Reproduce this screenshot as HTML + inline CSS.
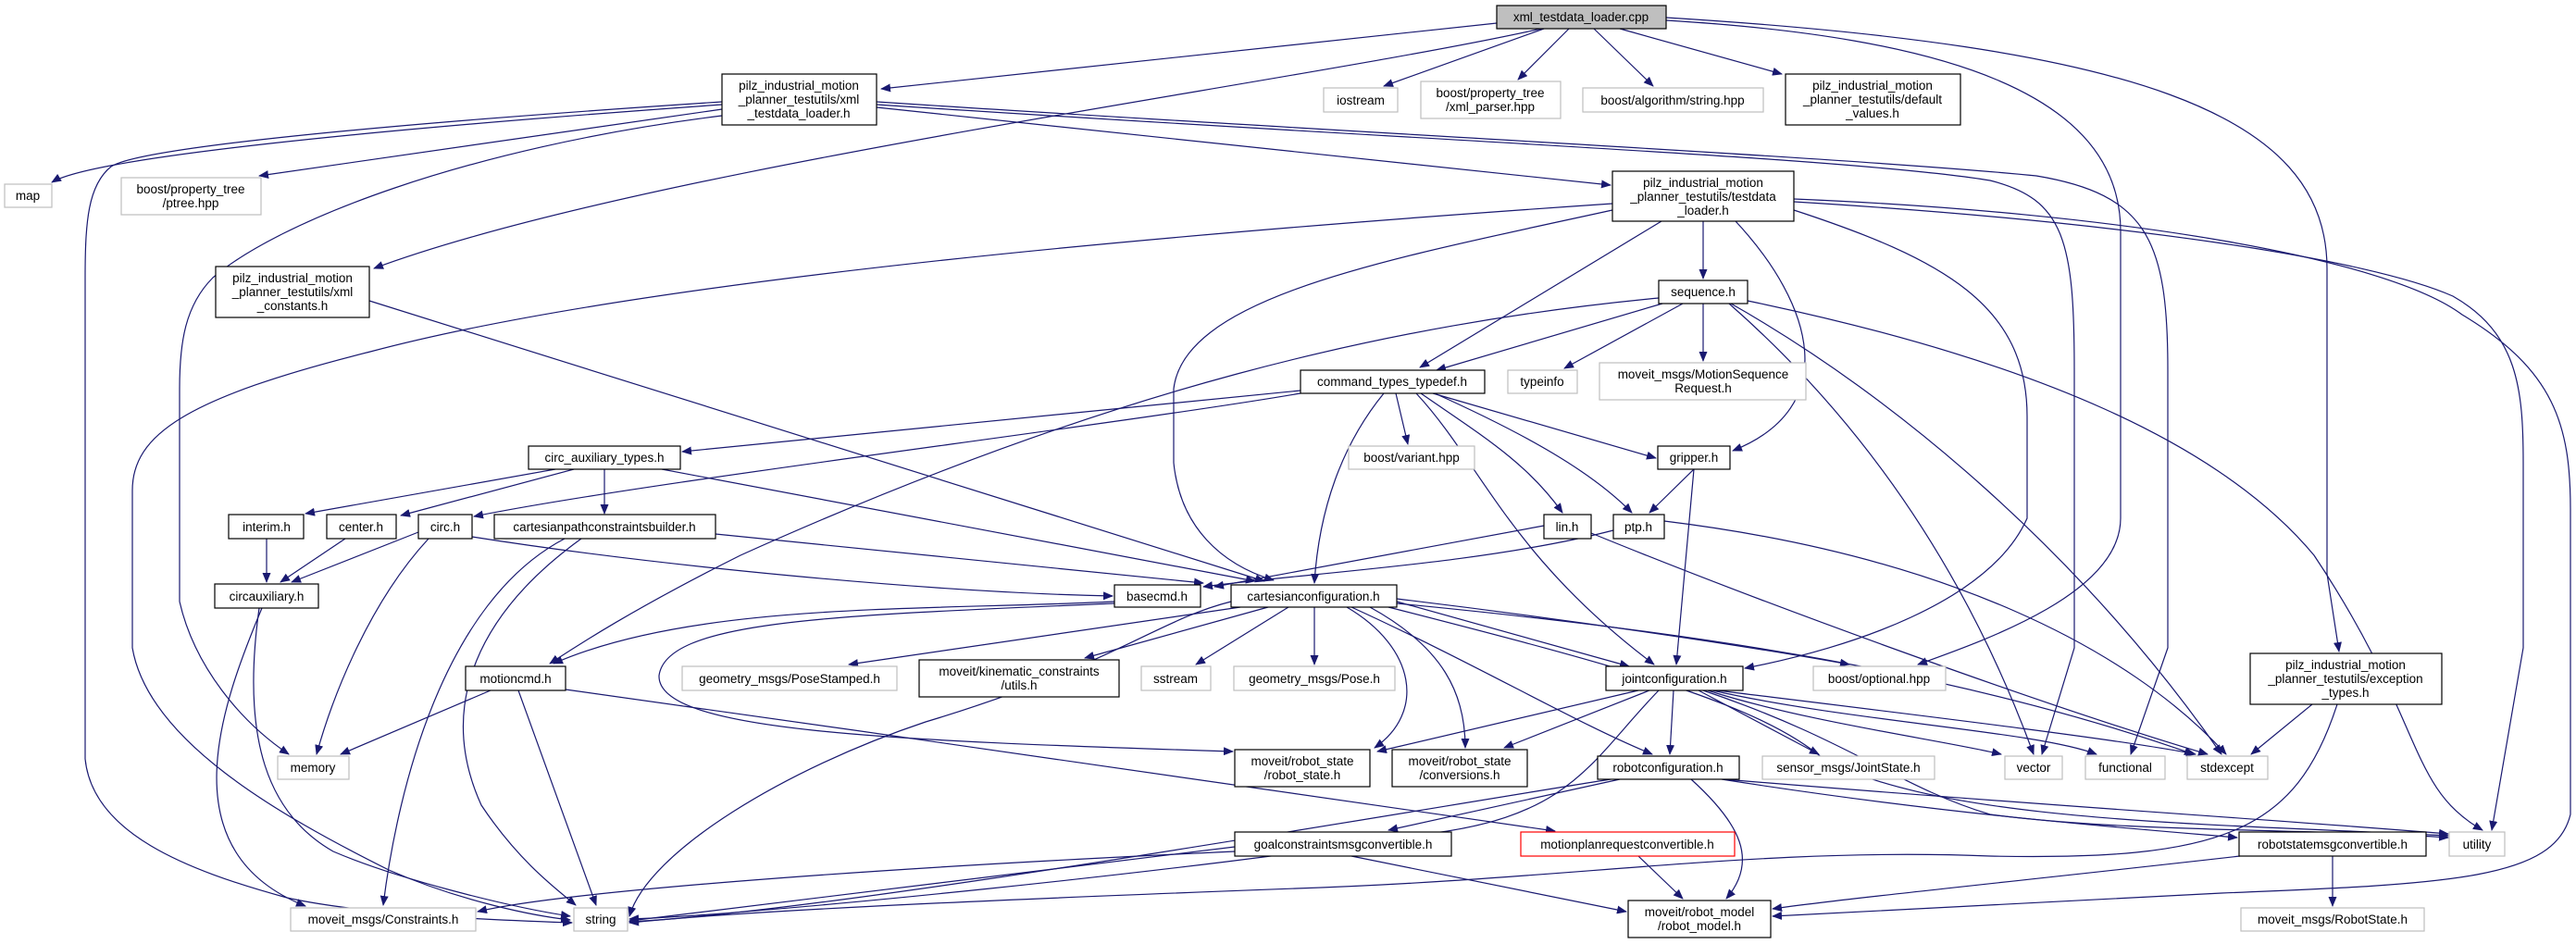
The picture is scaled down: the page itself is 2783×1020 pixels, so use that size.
<!DOCTYPE html>
<html><head><meta charset="utf-8"><style>
html,body{margin:0;padding:0;background:#fff;}
svg{display:block;}
text{font-family:"Liberation Sans",sans-serif;font-size:13.5px;fill:#000;text-anchor:middle;}
.e{fill:none;stroke:#191970;stroke-width:1.2;marker-end:url(#a);}
.b{fill:#fff;stroke:#000;stroke-width:1.2;}
.g{fill:#fff;stroke:#bfbfbf;stroke-width:1.2;}
.r{fill:#fff;stroke:#ff0000;stroke-width:1.2;}
</style></head><body>
<svg width="2783" height="1020" viewBox="0 0 2783 1020" xmlns="http://www.w3.org/2000/svg">
<defs><marker id="a" markerWidth="11" markerHeight="9" refX="10" refY="4.5" orient="auto" markerUnits="userSpaceOnUse"><path d="M0,0 L11,4.5 L0,9 Z" fill="#191970"/></marker></defs>
<g>
<!-- cpp -->
<path class="e" d="M1617,25 L952,96"/>
<path class="e" d="M1668,31 L1495,93"/>
<path class="e" d="M1695,31 L1640,86"/>
<path class="e" d="M1722,31 L1786,93"/>
<path class="e" d="M1750,31 L1925,80"/>
<path class="e" d="M1665,31 C1400,90 700,180 404,290"/>
<path class="e" d="M1800,22 C2100,40 2291,100 2291,250 L2291,560 C2291,640 2150,690 2072,718"/>
<path class="e" d="M1800,19 C2300,50 2514,120 2514,290 L2514,620 L2527,704"/>
<!-- xml_testdata_loader.h -->
<path class="e" d="M780,113 C400,140 100,170 56,197"/>
<path class="e" d="M780,118 L280,190"/>
<path class="e" d="M780,110 C400,135 150,160 120,180 C95,200 92,240 92,300 L92,820 C100,900 200,940 310,970 C400,990 560,995 618,997"/>
<path class="e" d="M780,125 C500,160 300,240 230,300 C200,330 194,370 194,420 L194,650 C210,720 260,780 312,815"/>
<path class="e" d="M947,116 L1740,200"/>
<path class="e" d="M947,113 C1500,150 2000,170 2150,195 C2230,215 2241,260 2241,400 L2241,700 L2206,815"/>
<path class="e" d="M947,110 C1400,140 2000,170 2200,190 C2320,210 2342,260 2342,400 L2342,700 L2302,815"/>
<!-- testdata_loader.h -->
<path class="e" d="M1840,239 L1840,301"/>
<path class="e" d="M1795,239 L1534,397"/>
<path class="e" d="M1742,227 C1500,280 1280,320 1268,420 L1268,500 C1275,570 1320,610 1376,627"/>
<path class="e" d="M1742,220 C1300,250 700,300 400,380 C200,430 143,470 143,530 L143,700 C160,800 300,880 420,940 C500,975 580,990 616,994"/>
<path class="e" d="M1875,239 C1960,330 1990,440 1872,487"/>
<path class="e" d="M1938,227 C2100,280 2190,330 2190,450 L2190,560 C2150,650 2000,700 1885,722"/>
<path class="e" d="M1938,218 C2300,240 2560,280 2650,320 C2720,360 2726,420 2726,500 L2726,700 L2692,897"/>
<path class="e" d="M1938,215 C2300,230 2580,280 2660,340 C2760,400 2777,460 2777,550 L2777,880 C2760,950 2650,955 2400,965 C2200,975 2000,985 1915,990"/>
<!-- sequence.h -->
<path class="e" d="M1796,328 L1552,400"/>
<path class="e" d="M1818,328 L1690,398"/>
<path class="e" d="M1840,328 L1840,390"/>
<path class="e" d="M1792,322 C1500,350 1200,420 800,600 C680,660 620,700 594,717"/>
<path class="e" d="M1868,328 C1950,400 2100,550 2197,815"/>
<path class="e" d="M1870,328 C2050,430 2250,600 2400,815"/>
<path class="e" d="M1888,325 C2200,390 2400,480 2500,600 C2620,780 2600,850 2682,897"/>
<!-- command_types_typedef.h -->
<path class="e" d="M1405,422 L737,488"/>
<path class="e" d="M1405,425 C1200,460 700,520 512,558"/>
<path class="e" d="M1495,425 C1450,480 1425,550 1420,630"/>
<path class="e" d="M1508,425 L1521,480"/>
<path class="e" d="M1535,425 C1600,470 1650,500 1688,554"/>
<path class="e" d="M1550,425 C1650,470 1720,510 1763,554"/>
<path class="e" d="M1548,425 L1789,495"/>
<path class="e" d="M1530,425 C1600,500 1630,600 1787,718"/>
<!-- circ_auxiliary_types.h -->
<path class="e" d="M600,507 L330,555"/>
<path class="e" d="M620,507 L433,557"/>
<path class="e" d="M653,507 L653,555"/>
<path class="e" d="M715,507 L1356,628"/>
<!-- xml_constants -->
<path class="e" d="M399,325 L1366,628"/>
<!-- gripper, ptp, lin -->
<path class="e" d="M1830,507 L1782,554"/>
<path class="e" d="M1830,507 L1811,718"/>
<path class="e" d="M1743,573 C1600,610 1400,620 1300,634"/>
<path class="e" d="M1798,563 C2100,600 2300,700 2405,815"/>
<path class="e" d="M1668,568 L1312,634"/>
<path class="e" d="M1719,576 C1900,650 2200,760 2385,815"/>
<!-- left cluster -->
<path class="e" d="M288,582 L288,629"/>
<path class="e" d="M373,582 L303,629"/>
<path class="e" d="M452,575 L315,629"/>
<path class="e" d="M463,582 C400,650 360,750 342,815"/>
<path class="e" d="M510,580 C700,610 1000,640 1202,644"/>
<path class="e" d="M773,577 L1300,630"/>
<path class="e" d="M610,582 C480,650 430,850 414,978"/>
<path class="e" d="M628,582 C520,660 470,760 520,870 C560,930 600,960 622,978"/>
<path class="e" d="M283,657 C240,760 180,920 330,979"/>
<path class="e" d="M280,657 C260,800 290,880 360,920 C430,950 550,980 616,990"/>
<!-- basecmd -->
<path class="e" d="M1204,650 C1000,660 750,650 598,717"/>
<path class="e" d="M1204,652 C900,665 720,670 712,730 C710,790 950,800 1332,812"/>
<!-- cartesianconfiguration -->
<path class="e" d="M1340,656 L917,718"/>
<path class="e" d="M1370,656 L1172,711"/>
<path class="e" d="M1392,656 L1292,718"/>
<path class="e" d="M1420,656 L1420,718"/>
<path class="e" d="M1509,650 L1760,720"/>
<path class="e" d="M1509,647 C1700,670 1900,700 1998,718"/>
<path class="e" d="M1460,656 C1600,720 1700,780 1785,815"/>
<path class="e" d="M1480,656 C1560,700 1583,750 1583,808"/>
<path class="e" d="M1455,656 C1530,700 1540,770 1485,808"/>
<path class="e" d="M1509,652 C1800,680 2100,720 2370,815"/>
<path class="e" d="M1500,656 C1750,720 1900,760 1970,820 C2100,890 2400,890 2645,903"/>
<path class="e" d="M1330,650 C1250,670 1200,720 1000,780 C850,830 700,920 680,990"/>
<!-- motioncmd -->
<path class="e" d="M530,746 L368,815"/>
<path class="e" d="M560,746 L644,978"/>
<path class="e" d="M611,745 C1000,800 1500,870 1680,898"/>
<!-- jointconfiguration -->
<path class="e" d="M1770,746 L1488,812"/>
<path class="e" d="M1782,746 L1625,808"/>
<path class="e" d="M1808,746 L1804,815"/>
<path class="e" d="M1835,746 L1965,815"/>
<path class="e" d="M1845,746 C1950,780 2100,800 2162,815"/>
<path class="e" d="M1850,746 C2000,780 2200,790 2265,815"/>
<path class="e" d="M1855,746 C2050,770 2300,800 2372,815"/>
<path class="e" d="M1840,746 C2000,800 2050,850 2150,880 C2300,900 2500,895 2645,905"/>
<path class="e" d="M1792,746 C1720,820 1700,880 1550,900 C1300,940 800,990 680,993"/>
<!-- robotconfiguration -->
<path class="e" d="M1750,842 L1500,897"/>
<path class="e" d="M1860,842 C2100,880 2300,895 2417,905"/>
<path class="e" d="M1862,842 C2200,870 2450,885 2645,901"/>
<path class="e" d="M1827,842 C1880,890 1900,930 1865,971"/>
<path class="e" d="M1740,842 C1500,880 900,985 680,996"/>
<!-- bottom -->
<path class="e" d="M1334,920 C900,940 600,965 516,985"/>
<path class="e" d="M1334,915 L680,995"/>
<path class="e" d="M1460,925 L1757,985"/>
<path class="e" d="M1770,925 L1818,971"/>
<path class="e" d="M2520,925 L2520,979"/>
<path class="e" d="M2420,925 C2200,950 2000,970 1915,982"/>
<path class="e" d="M2498,761 L2432,815"/>
<path class="e" d="M2525,761 C2480,900 2400,930 2150,925 C1900,915 1700,950 1400,960 C1000,975 800,985 680,997"/>
</g>
<g>
<rect x="1617" y="6" width="183" height="25" fill="#bfbfbf" stroke="#000" stroke-width="1.2"/><text x="1708" y="23">xml_testdata_loader.cpp</text>
<rect class="b" x="780" y="80" width="167" height="55"/><text x="863" y="97">pilz_industrial_motion</text><text x="863" y="112">_planner_testutils/xml</text><text x="863" y="127">_testdata_loader.h</text>
<rect class="g" x="1430" y="95" width="80" height="26"/><text x="1470" y="113">iostream</text>
<rect class="g" x="1535" y="88" width="151" height="40"/><text x="1610" y="105">boost/property_tree</text><text x="1610" y="120">/xml_parser.hpp</text>
<rect class="g" x="1710" y="95" width="195" height="26"/><text x="1807" y="113">boost/algorithm/string.hpp</text>
<rect class="b" x="1929" y="80" width="189" height="55"/><text x="2023" y="97">pilz_industrial_motion</text><text x="2023" y="112">_planner_testutils/default</text><text x="2023" y="127">_values.h</text>
<rect class="g" x="5" y="199" width="51" height="25"/><text x="30" y="216">map</text>
<rect class="g" x="131" y="192" width="151" height="40"/><text x="206" y="209">boost/property_tree</text><text x="206" y="224">/ptree.hpp</text>
<rect class="b" x="1742" y="185" width="196" height="54"/><text x="1840" y="202">pilz_industrial_motion</text><text x="1840" y="217">_planner_testutils/testdata</text><text x="1840" y="232">_loader.h</text>
<rect class="b" x="233" y="288" width="166" height="55"/><text x="316" y="305">pilz_industrial_motion</text><text x="316" y="320">_planner_testutils/xml</text><text x="316" y="335">_constants.h</text>
<rect class="b" x="1792" y="303" width="96" height="25"/><text x="1840" y="320">sequence.h</text>
<rect class="b" x="1405" y="400" width="199" height="25"/><text x="1504" y="417">command_types_typedef.h</text>
<rect class="g" x="1629" y="400" width="75" height="25"/><text x="1666" y="417">typeinfo</text>
<rect class="g" x="1728" y="392" width="223" height="40"/><text x="1840" y="409">moveit_msgs/MotionSequence</text><text x="1840" y="424">Request.h</text>
<rect class="b" x="571" y="482" width="164" height="25"/><text x="653" y="499">circ_auxiliary_types.h</text>
<rect class="g" x="1457" y="482" width="136" height="25"/><text x="1525" y="499">boost/variant.hpp</text>
<rect class="b" x="1791" y="482" width="78" height="25"/><text x="1830" y="499">gripper.h</text>
<rect class="b" x="247" y="556" width="81" height="26"/><text x="288" y="574">interim.h</text>
<rect class="b" x="353" y="556" width="75" height="26"/><text x="390" y="574">center.h</text>
<rect class="b" x="452" y="556" width="58" height="26"/><text x="481" y="574">circ.h</text>
<rect class="b" x="534" y="556" width="239" height="26"/><text x="653" y="574">cartesianpathconstraintsbuilder.h</text>
<rect class="b" x="1668" y="556" width="51" height="26"/><text x="1693" y="574">lin.h</text>
<rect class="b" x="1743" y="556" width="55" height="26"/><text x="1770" y="574">ptp.h</text>
<rect class="b" x="232" y="631" width="112" height="26"/><text x="288" y="649">circauxiliary.h</text>
<rect class="b" x="1204" y="632" width="93" height="24"/><text x="1250" y="649">basecmd.h</text>
<rect class="b" x="1330" y="632" width="179" height="24"/><text x="1419" y="649">cartesianconfiguration.h</text>
<rect class="b" x="503" y="720" width="108" height="26"/><text x="557" y="738">motioncmd.h</text>
<rect class="g" x="737" y="720" width="232" height="26"/><text x="853" y="738">geometry_msgs/PoseStamped.h</text>
<rect class="b" x="993" y="713" width="216" height="40"/><text x="1101" y="730">moveit/kinematic_constraints</text><text x="1101" y="745">/utils.h</text>
<rect class="g" x="1233" y="720" width="75" height="26"/><text x="1270" y="738">sstream</text>
<rect class="g" x="1333" y="720" width="174" height="26"/><text x="1420" y="738">geometry_msgs/Pose.h</text>
<rect class="b" x="1735" y="720" width="148" height="26"/><text x="1809" y="738">jointconfiguration.h</text>
<rect class="g" x="1959" y="720" width="143" height="26"/><text x="2030" y="738">boost/optional.hpp</text>
<rect class="b" x="2431" y="706" width="207" height="55"/><text x="2534" y="723">pilz_industrial_motion</text><text x="2534" y="738">_planner_testutils/exception</text><text x="2534" y="753">_types.h</text>
<rect class="g" x="300" y="817" width="77" height="25"/><text x="338" y="834">memory</text>
<rect class="b" x="1334" y="810" width="146" height="40"/><text x="1407" y="827">moveit/robot_state</text><text x="1407" y="842">/robot_state.h</text>
<rect class="b" x="1504" y="810" width="146" height="40"/><text x="1577" y="827">moveit/robot_state</text><text x="1577" y="842">/conversions.h</text>
<rect class="b" x="1726" y="817" width="153" height="25"/><text x="1802" y="834">robotconfiguration.h</text>
<rect class="g" x="1904" y="817" width="186" height="25"/><text x="1997" y="834">sensor_msgs/JointState.h</text>
<rect class="g" x="2166" y="817" width="62" height="25"/><text x="2197" y="834">vector</text>
<rect class="g" x="2253" y="817" width="86" height="25"/><text x="2296" y="834">functional</text>
<rect class="g" x="2363" y="817" width="87" height="25"/><text x="2406" y="834">stdexcept</text>
<rect class="b" x="1334" y="899" width="234" height="26"/><text x="1451" y="917">goalconstraintsmsgconvertible.h</text>
<rect class="r" x="1643" y="899" width="231" height="26"/><text x="1758" y="917">motionplanrequestconvertible.h</text>
<rect class="b" x="2419" y="899" width="202" height="26"/><text x="2520" y="917">robotstatemsgconvertible.h</text>
<rect class="g" x="2646" y="899" width="60" height="26"/><text x="2676" y="917">utility</text>
<rect class="g" x="314" y="981" width="200" height="25"/><text x="414" y="998">moveit_msgs/Constraints.h</text>
<rect class="g" x="620" y="981" width="58" height="25"/><text x="649" y="998">string</text>
<rect class="b" x="1759" y="973" width="154" height="40"/><text x="1836" y="990">moveit/robot_model</text><text x="1836" y="1005">/robot_model.h</text>
<rect class="g" x="2421" y="981" width="198" height="25"/><text x="2520" y="998">moveit_msgs/RobotState.h</text>
</g>
</svg>
</body></html>
